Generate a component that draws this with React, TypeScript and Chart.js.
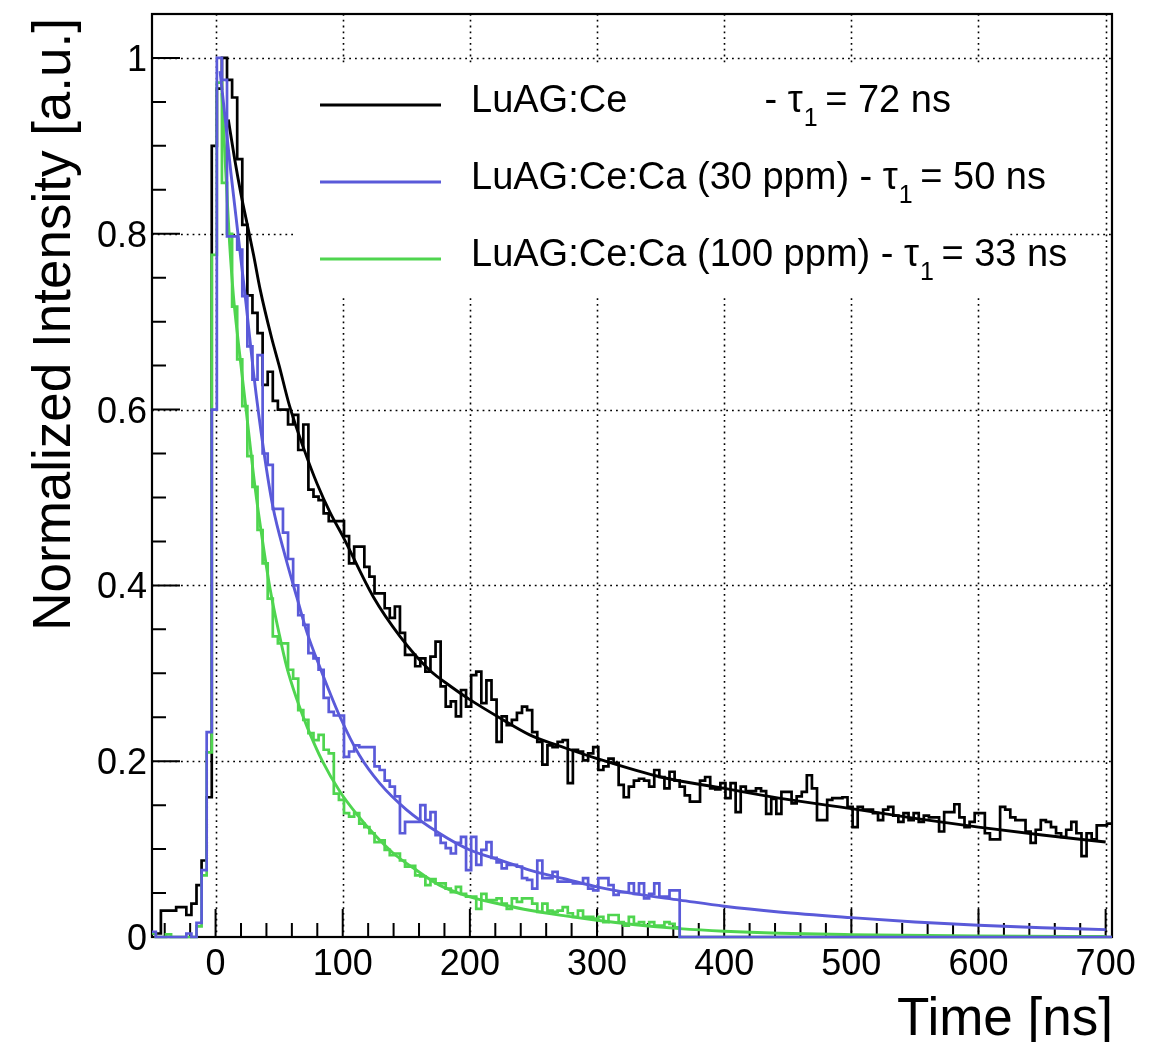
import React, { useEffect, useRef } from "react";
import { Chart, registerables } from "chart.js";

Chart.register(...registerables);

// ---- Histogram binning (ns) ----
const binStart = -51;
const binWidth = 4;

// ---- Histogram contents (normalized), one value per 4 ns bin ----
const blackHist = [
  0.004, 0.004, 0.03, 0.03, 0.03, 0.034, 0.034, 0.025, 0.038, 0.059,
  0.087, 0.159, 0.9, 0.965, 1.0, 0.975, 0.955, 0.885, 0.81, 0.73,
  0.71, 0.687, 0.628, 0.643, 0.61, 0.6, 0.6, 0.583, 0.594, 0.554,
  0.583, 0.509, 0.501, 0.497, 0.482, 0.473, 0.473, 0.473, 0.456, 0.425,
  0.444, 0.444, 0.421, 0.41, 0.391, 0.391, 0.374, 0.363, 0.376, 0.346,
  0.321, 0.321, 0.308, 0.317, 0.302, 0.319, 0.336, 0.285, 0.262, 0.268,
  0.251, 0.281, 0.262, 0.298, 0.302, 0.266, 0.292, 0.27, 0.222, 0.251,
  0.241, 0.247, 0.255, 0.262, 0.258, 0.233, 0.222, 0.196, 0.218, 0.216,
  0.222, 0.224, 0.175, 0.213, 0.211, 0.201, 0.209, 0.216, 0.19, 0.194,
  0.203, 0.198, 0.173, 0.159, 0.171, 0.178, 0.18, 0.178, 0.171, 0.19,
  0.182, 0.169, 0.188, 0.178, 0.171, 0.161, 0.154, 0.154, 0.178, 0.182,
  0.169, 0.168, 0.175, 0.158, 0.175, 0.142, 0.171, 0.166, 0.166, 0.169,
  0.166, 0.14, 0.157, 0.14, 0.165, 0.165, 0.152, 0.16, 0.165, 0.184,
  0.169, 0.133, 0.133, 0.156, 0.158, 0.158, 0.159, 0.148, 0.125, 0.148,
  0.145, 0.145, 0.141, 0.133, 0.145, 0.148, 0.138, 0.131, 0.141, 0.133,
  0.141, 0.131, 0.138, 0.136, 0.136, 0.12, 0.142, 0.142, 0.151, 0.136,
  0.125, 0.131, 0.141, 0.141, 0.118, 0.111, 0.111, 0.148, 0.145, 0.136,
  0.133, 0.133, 0.12, 0.107, 0.122, 0.133, 0.131, 0.125, 0.118, 0.114,
  0.122, 0.131, 0.118, 0.092, 0.118, 0.111, 0.127, 0.127, 0.129,
];

const blueHist = [
  0.006, 0, 0, 0, 0, 0, 0, 0.004, 0, 0.016,
  0.076, 0.233, 0.6, 1.0, 0.975, 0.797, 0.797, 0.782, 0.729, 0.672,
  0.634, 0.662, 0.55, 0.537, 0.487, 0.487, 0.46, 0.43, 0.4, 0.366,
  0.355, 0.323, 0.317, 0.304, 0.272, 0.256, 0.252, 0.252, 0.205, 0.211,
  0.218, 0.216, 0.216, 0.216, 0.194, 0.19, 0.178, 0.171, 0.16, 0.118,
  0.131, 0.131, 0.131, 0.15, 0.133, 0.142, 0.116, 0.107, 0.101, 0.095,
  0.107, 0.114, 0.076, 0.114, 0.082, 0.099, 0.108, 0.09, 0.085, 0.078,
  0.082, 0.082, 0.08, 0.067, 0.065, 0.055, 0.087, 0.067, 0.067, 0.074,
  0.063, 0.063, 0.063, 0.061, 0.061, 0.067, 0.055, 0.053, 0.067, 0.067,
  0.059, 0.048, 0.051, 0.051, 0.061, 0.049, 0.061, 0.044, 0.049, 0.061,
  0.046, 0.046, 0.053, 0.053, 0, 0, 0, 0, 0, 0,
  0, 0, 0, 0, 0, 0, 0, 0, 0, 0,
  0, 0, 0, 0, 0, 0, 0, 0, 0, 0,
  0, 0, 0, 0, 0, 0, 0, 0, 0, 0,
  0, 0, 0, 0, 0, 0, 0, 0, 0, 0,
  0, 0, 0, 0, 0, 0, 0, 0, 0, 0,
  0, 0, 0, 0, 0, 0, 0, 0, 0, 0,
  0, 0, 0, 0, 0, 0, 0, 0, 0, 0,
  0, 0, 0, 0, 0, 0, 0, 0, 0,
];

const greenHist = [
  0.004, 0, 0, 0.003, 0, 0, 0, 0, 0, 0.012,
  0.07, 0.21, 0.776, 0.972, 0.858, 0.8, 0.717, 0.657, 0.604, 0.547,
  0.512, 0.463, 0.425, 0.385, 0.342, 0.334, 0.334, 0.304, 0.294, 0.258,
  0.247, 0.232, 0.224, 0.23, 0.213, 0.209, 0.163, 0.156, 0.141, 0.137,
  0.141, 0.129, 0.125, 0.118, 0.108, 0.11, 0.099, 0.093, 0.095, 0.087,
  0.08, 0.081, 0.07, 0.069, 0.059, 0.066, 0.061, 0.061, 0.055, 0.051,
  0.057, 0.049, 0.046, 0.046, 0.032, 0.049, 0.042, 0.042, 0.044, 0.038,
  0.032, 0.044, 0.04, 0.044, 0.044, 0.038, 0.0285, 0.038, 0.03, 0.0285,
  0.03, 0.034, 0.027, 0.023, 0.03, 0.023, 0.023, 0.021, 0.023, 0.017,
  0.025, 0.025, 0.017, 0.013, 0.023, 0.015, 0.017, 0.013, 0.017, 0.013,
  0.013, 0.017, 0.015, 0.011, 0, 0, 0, 0, 0, 0,
  0, 0, 0, 0, 0, 0, 0, 0, 0, 0,
  0, 0, 0, 0, 0, 0, 0, 0, 0, 0,
  0, 0, 0, 0, 0, 0, 0, 0, 0, 0,
  0, 0, 0, 0, 0, 0, 0, 0, 0, 0,
  0, 0, 0, 0, 0, 0, 0, 0, 0, 0,
  0, 0, 0, 0, 0, 0, 0, 0, 0, 0,
  0, 0, 0, 0, 0, 0, 0, 0, 0, 0,
  0, 0, 0, 0, 0, 0, 0, 0, 0,
];

// ---- Fit curves: [time ns, intensity] ----
const blackFit: [number, number][] = [
  [10, 0.93], [15, 0.885], [20, 0.845], [25, 0.81], [30, 0.775], [35, 0.737],
  [44, 0.682], [50, 0.65], [58, 0.605], [70, 0.553], [80, 0.515], [90, 0.483],
  [100, 0.456], [124, 0.387], [145, 0.342], [168, 0.304], [185, 0.285],
  [200, 0.27], [225, 0.248], [247, 0.23], [275, 0.215], [300, 0.203],
  [350, 0.182], [400, 0.169], [443, 0.158], [500, 0.146], [550, 0.135],
  [600, 0.125], [650, 0.116], [700, 0.108],
];

const blueFit: [number, number][] = [
  [3.5, 0.985], [8, 0.925], [12, 0.87], [16, 0.82], [20, 0.77], [24, 0.72],
  [30, 0.64], [37.6, 0.556], [45, 0.49], [55, 0.432], [64, 0.386],
  [72, 0.346], [82, 0.307], [98, 0.25], [113, 0.207], [129, 0.175],
  [150, 0.145], [176, 0.118], [200, 0.099], [225, 0.087], [247, 0.076],
  [275, 0.066], [300, 0.057], [330, 0.049], [365, 0.042], [400, 0.035],
  [443, 0.0285], [500, 0.022], [550, 0.017], [600, 0.0133], [650, 0.0105],
  [700, 0.0084],
];

const greenFit: [number, number][] = [
  [5, 0.96], [8, 0.87], [11, 0.79], [14, 0.73], [18, 0.675], [24, 0.6],
  [31, 0.512], [37, 0.45], [43, 0.395], [50, 0.345], [56, 0.307],
  [64, 0.27], [72, 0.239], [84, 0.2], [98, 0.165], [112, 0.138],
  [124, 0.118], [140, 0.095], [155, 0.079], [176, 0.059], [200, 0.0456],
  [225, 0.037], [247, 0.0304], [275, 0.024], [300, 0.019], [330, 0.014],
  [365, 0.0095], [400, 0.0065], [443, 0.0042], [500, 0.0027],
  [600, 0.0012], [700, 0.0005],
];

// ---- Axes ----
const xMin = -50;
const xMax = 705;
const yMin = 0;
const yMax = 1.05;
const xTicks = [0, 100, 200, 300, 400, 500, 600, 700];
const xTickLabels = ["0", "100", "200", "300", "400", "500", "600", "700"];
const xMinorStep = 20;
const yTicks = [0, 0.2, 0.4, 0.6, 0.8, 1];
const yTickLabels = ["0", "0.2", "0.4", "0.6", "0.8", "1"];
const yMinorStep = 0.05;
const xTitle = "Time [ns]";
const yTitle = "Normalized Intensity [a.u.]";

// ---- Legend ----
const legendPrefix = [
  "LuAG:Ce             - \u03C4",
  "LuAG:Ce:Ca (30 ppm) - \u03C4",
  "LuAG:Ce:Ca (100 ppm) - \u03C4",
];
const legendSub = ["1", "1", "1"];
const legendSuffix = [" = 72 ns", " = 50 ns", " = 33 ns"];

const BLACK = "#000000";
const BLUE = "#5a5ad9";
const GREEN = "#4fd54f";
const legendColors = [BLACK, BLUE, GREEN];

const FONT = '"Liberation Sans", Arial, Helvetica, sans-serif';

function histPoints(vals: number[]) {
  const pts = vals.map((v, i) => ({ x: binStart + i * binWidth, y: v }));
  pts.push({ x: binStart + vals.length * binWidth, y: vals[vals.length - 1] });
  return pts;
}

function fitPoints(vals: [number, number][]) {
  return vals.map(([x, y]) => ({ x, y }));
}

const rootPlugin = {
  id: "rootStyle",
  beforeDatasetsDraw(chart: any) {
    const { ctx, chartArea: a, scales } = chart;
    const xs = scales.x;
    const ys = scales.y;
    ctx.save();

    // dotted grid
    ctx.strokeStyle = "#000";
    ctx.lineWidth = 1.6;
    ctx.setLineDash([1.8, 4]);
    for (const t of xTicks) {
      const px = Math.round(xs.getPixelForValue(t)) + 0.5;
      ctx.beginPath();
      ctx.moveTo(px, a.top);
      ctx.lineTo(px, a.bottom);
      ctx.stroke();
    }
    for (const t of yTicks) {
      if (t === 0) continue;
      const py = Math.round(ys.getPixelForValue(t)) + 0.5;
      ctx.beginPath();
      ctx.moveTo(a.left, py);
      ctx.lineTo(a.right, py);
      ctx.stroke();
    }
    ctx.setLineDash([]);

    // legend background
    ctx.fillStyle = "#fff";
    ctx.fillRect(293, 65, 715, 232);

    // frame
    ctx.strokeStyle = "#000";
    ctx.lineWidth = 2.2;
    ctx.strokeRect(a.left, a.top, a.right - a.left, a.bottom - a.top);

    // ticks
    ctx.lineWidth = 2;
    ctx.beginPath();
    for (let v = -40; v <= xMax; v += xMinorStep) {
      const major = xTicks.includes(v);
      const px = xs.getPixelForValue(v);
      ctx.moveTo(px, a.bottom);
      ctx.lineTo(px, a.bottom - (major ? 28 : 14));
    }
    for (let i = 1; i * yMinorStep < yMax - 1e-6; i++) {
      const v = i * yMinorStep;
      const major = Math.abs(v / 0.2 - Math.round(v / 0.2)) < 1e-6;
      const py = ys.getPixelForValue(v);
      ctx.moveTo(a.left, py);
      ctx.lineTo(a.left + (major ? 28 : 14), py);
    }
    ctx.stroke();

    // tick labels
    ctx.fillStyle = "#000";
    ctx.font = `36px ${FONT}`;
    ctx.textBaseline = "alphabetic";
    ctx.textAlign = "center";
    xTicks.forEach((t, i) => {
      ctx.fillText(xTickLabels[i], xs.getPixelForValue(t), 975);
    });
    ctx.textAlign = "right";
    yTicks.forEach((t, i) => {
      ctx.fillText(yTickLabels[i], 147, ys.getPixelForValue(t) + 13);
    });

    ctx.restore();
  },
  afterDatasetsDraw(chart: any) {
    const { ctx } = chart;
    ctx.save();
    ctx.fillStyle = "#000";
    ctx.textBaseline = "alphabetic";
    ctx.textAlign = "left";
    const big = `38px ${FONT}`;
    const small = `25px ${FONT}`;
    legendPrefix.forEach((pre, i) => {
      const ly = 105 + i * 77;
      ctx.strokeStyle = legendColors[i];
      ctx.lineWidth = 3;
      ctx.beginPath();
      ctx.moveTo(320, ly);
      ctx.lineTo(441, ly);
      ctx.stroke();
      const base = ly + 7;
      let tx = 471;
      ctx.font = big;
      ctx.fillText(pre, tx, base);
      tx += ctx.measureText(pre).width;
      ctx.font = small;
      ctx.fillText(legendSub[i], tx + 1, base + 14);
      tx += ctx.measureText(legendSub[i]).width - 2;
      ctx.font = big;
      ctx.fillText(legendSuffix[i], tx, base);
    });

    // axis titles
    ctx.font = `53px ${FONT}`;
    ctx.textAlign = "right";
    ctx.fillText(xTitle, 1113, 1035);
    ctx.translate(70, 18);
    ctx.rotate(-Math.PI / 2);
    ctx.fillText(yTitle, 0, 0);
    ctx.restore();
  },
};

export default function App() {
  const ref = useRef<HTMLCanvasElement>(null);
  useEffect(() => {
    const histStyle = {
      stepped: true as const,
      pointRadius: 0,
      borderWidth: 2.7,
      fill: false,
      clip: { left: 0, right: 0, top: 3, bottom: 3 },
    };
    const fitStyle = {
      pointRadius: 0,
      borderWidth: 2.9,
      fill: false,
      cubicInterpolationMode: "monotone" as const,
      clip: { left: 0, right: 0, top: 3, bottom: 3 },
    };
    const chart = new Chart(ref.current as HTMLCanvasElement, {
      type: "line",
      data: {
        datasets: [
          { ...fitStyle, label: "blue fit", data: fitPoints(blueFit), borderColor: BLUE },
          { ...histStyle, label: "LuAG:Ce:Ca (30 ppm)", data: histPoints(blueHist), borderColor: BLUE },
          { ...fitStyle, label: "green fit", data: fitPoints(greenFit), borderColor: GREEN },
          { ...histStyle, label: "LuAG:Ce:Ca (100 ppm)", data: histPoints(greenHist), borderColor: GREEN },
          { ...fitStyle, label: "black fit", data: fitPoints(blackFit), borderColor: BLACK },
          { ...histStyle, label: "LuAG:Ce", data: histPoints(blackHist), borderColor: BLACK },
        ] as any,
      },
      options: {
        responsive: false,
        animation: false,
        devicePixelRatio: 1,
        layout: { padding: { left: 152, top: 14, right: 48, bottom: 105 } },
        scales: {
          x: { type: "linear", min: xMin, max: xMax, display: false },
          y: { type: "linear", min: yMin, max: yMax, display: false },
        },
        plugins: {
          legend: { display: false },
          tooltip: { enabled: false },
        },
      },
      plugins: [rootPlugin],
    });
    return () => chart.destroy();
  }, []);
  return (
    <div style={{ position: "absolute", left: 0, top: 0, width: 1160, height: 1042, background: "#fff" }}>
      <canvas ref={ref} width={1160} height={1042} style={{ display: "block", width: 1160, height: 1042 }} />
    </div>
  );
}
